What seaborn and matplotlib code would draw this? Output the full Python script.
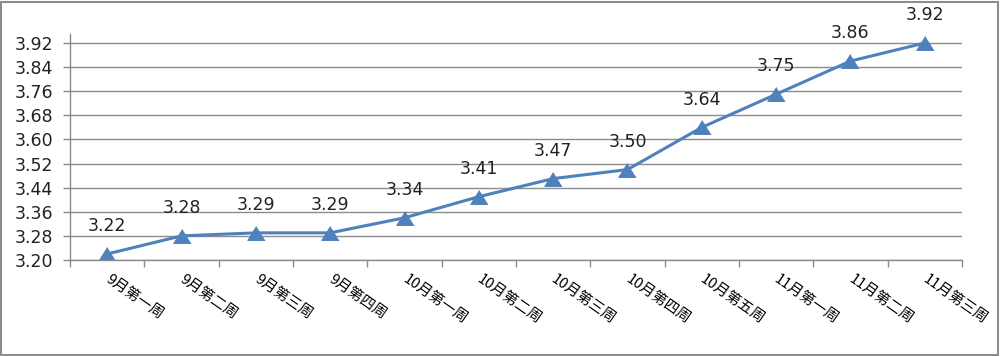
import matplotlib
matplotlib.use("Agg")
import matplotlib.pyplot as plt
import matplotlib.transforms as mtransforms
import seaborn as sns
import numpy as np
import pandas as pd
from matplotlib.patches import Rectangle

categories = ["9月第一周", "9月第二周", "9月第三周", "9月第四周",
              "10月第一周", "10月第二周", "10月第三周", "10月第四周", "10月第五周",
              "11月第一周", "11月第二周", "11月第三周"]
values = [3.22, 3.28, 3.29, 3.29, 3.34, 3.41, 3.47, 3.50, 3.64, 3.75, 3.86, 3.92]
y_ticks = [3.20, 3.28, 3.36, 3.44, 3.52, 3.60, 3.68, 3.76, 3.84, 3.92]

sns.set_style("white")
plt.rcParams['font.family'] = ['DejaVu Sans', 'Noto Sans CJK SC']

color = "#4F81BD"
grid_c = "#8c8c8c"
fig = plt.figure(figsize=(10, 3.56), dpi=100)
ax = fig.add_axes([0.07, 0.2697, 0.892, 0.635])

tri = [(0, 0.8), (-1, -0.8), (1, -0.8)]
df = pd.DataFrame({"idx": np.arange(len(categories)), "val": values})
sns.lineplot(data=df, x="idx", y="val", ax=ax, color=color, linewidth=2.2,
             marker=tri, markersize=12.5, markeredgecolor=color, markerfacecolor=color)

for i, v in enumerate(values):
    ax.annotate(f"{v:.2f}", (i, v), xytext=(0, 20), textcoords="offset points",
                ha="center", va="center", fontsize=12.5, color="#222222")

ax.set_xlim(-0.5, len(categories) - 0.5)
ax.set_ylim(3.20, 3.95)
ax.set_yticks(y_ticks)
ax.set_yticklabels([f"{t:.2f}" for t in y_ticks], fontsize=12.5, color="#222222")
ax.yaxis.grid(True, color=grid_c, linewidth=1)
ax.set_axisbelow(True)

ax.set_xticks(np.arange(len(categories)))
ax.set_xticklabels(categories, rotation=-35, ha="left", va="center",
                   rotation_mode="anchor", fontsize=10.5, color="#000000",
                   family=['Noto Sans CJK SC', 'DejaVu Sans'], fontweight="medium")
shift = mtransforms.ScaledTranslation(-6 / 100, 0, fig.dpi_scale_trans)
for lab in ax.get_xticklabels():
    lab.set_transform(lab.get_transform() + shift)
ax.set_xticks(np.arange(len(categories) + 1) - 0.5, minor=True)
ax.tick_params(axis="x", which="major", length=0, pad=13)
ax.tick_params(axis="x", which="minor", length=5, color=grid_c, width=1, direction="out", bottom=True)
ax.tick_params(axis="y", which="major", length=5, color=grid_c, width=1, direction="out", left=True, pad=7)

for s in ["top", "right"]:
    ax.spines[s].set_visible(False)
for s in ["left", "bottom"]:
    ax.spines[s].set_color(grid_c)
    ax.spines[s].set_linewidth(1)

ax.set_xlabel("")
ax.set_ylabel("")

fig.patches.append(Rectangle((0.001, 0.003), 0.997, 0.992, transform=fig.transFigure,
                             fill=False, edgecolor=grid_c, linewidth=1.5))

fig.savefig("out.png", dpi=100)
